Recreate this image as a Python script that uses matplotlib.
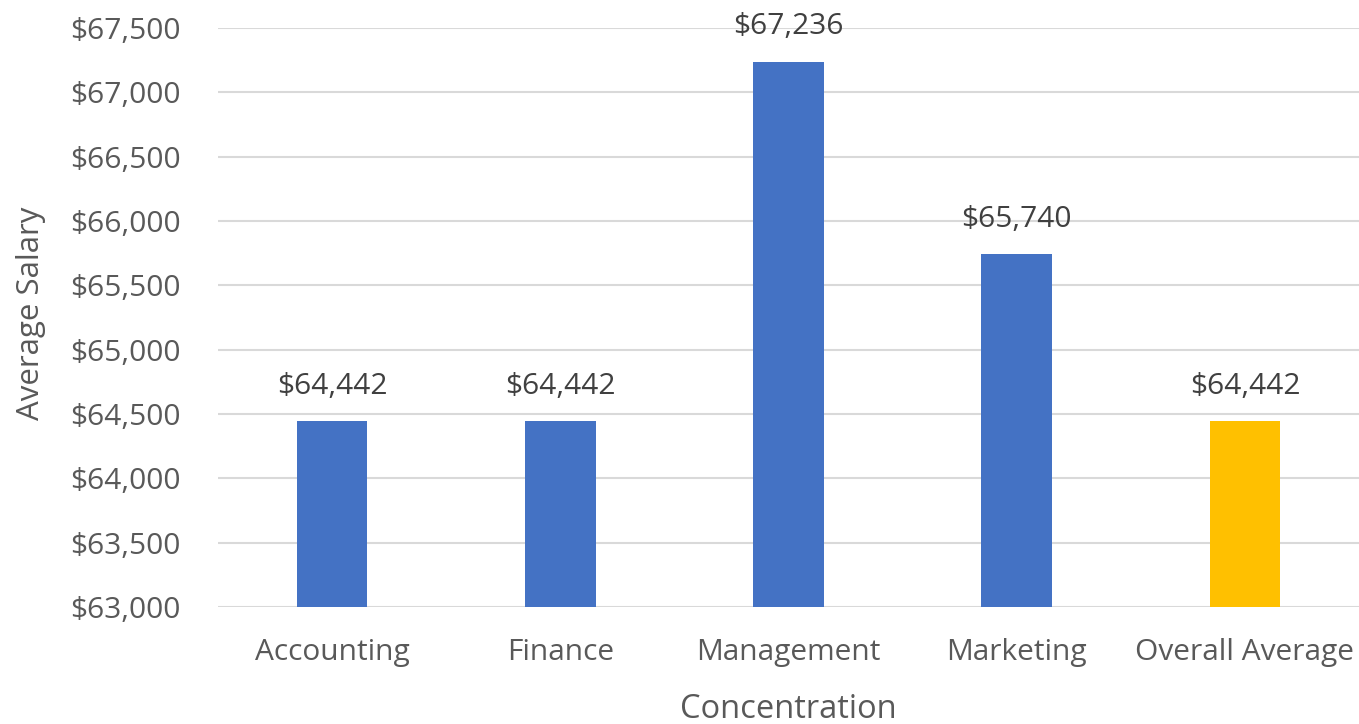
import matplotlib.pyplot as plt
from matplotlib.ticker import FuncFormatter

CATEGORIES = ["Accounting", "Finance", "Management", "Marketing", "Overall Average"]
SALARIES = [64442, 64442, 67236, 65740, 64442]
BAR_COLORS = ["#4472C4", "#4472C4", "#4472C4", "#4472C4", "#FFC000"]
Y_TICKS = list(range(63000, 67501, 500))

plt.rcParams["font.family"] = ["Open Sans", "DejaVu Sans"]

fig = plt.figure(figsize=(13.59, 7.24), dpi=100)
ax = fig.add_axes([0.1604, 0.1616, 0.8396, 0.7997])

positions = list(range(len(CATEGORIES)))
ax.bar(positions, SALARIES, width=0.31, color=BAR_COLORS, zorder=3)

for x, value in zip(positions, SALARIES):
    ax.annotate(
        f"${value:,}",
        (x, value),
        xytext=(0, 15),
        textcoords="offset points",
        ha="center",
        va="bottom",
        fontsize=21.5,
        color="#404040",
    )

ax.set_xlim(-0.5, len(CATEGORIES) - 0.5)
ax.set_ylim(63000, 67500)
ax.set_yticks(Y_TICKS)
ax.yaxis.set_major_formatter(FuncFormatter(lambda v, _: f"${v:,.0f}"))
ax.set_xticks(positions)
ax.set_xticklabels(CATEGORIES)

ax.grid(axis="y", color="#D9D9D9", linewidth=1.5, zorder=0)
for spine in ax.spines.values():
    spine.set_visible(False)
ax.tick_params(axis="both", length=0, labelsize=21.5, colors="#595959")
ax.tick_params(axis="x", pad=22)
ax.tick_params(axis="y", pad=27)

ax.set_xlabel("Concentration", fontsize=23.5, color="#595959", labelpad=19)
ax.set_ylabel("Average Salary", fontsize=22.5, color="#595959")
ax.yaxis.set_label_coords(-0.1505, 0.507)

fig.savefig("out.png", dpi=100)
